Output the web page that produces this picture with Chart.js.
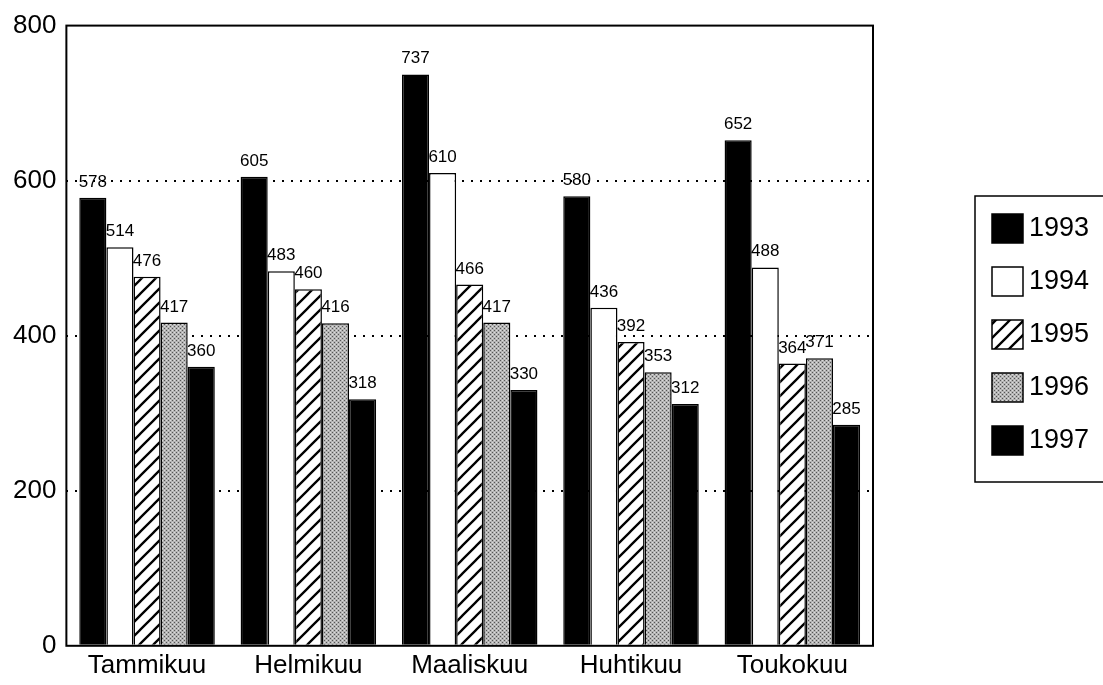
<!DOCTYPE html>
<html>
<head>
<meta charset="utf-8">
<script src="https://cdn.jsdelivr.net/npm/chart.js@4/dist/chart.umd.min.js"></script>
<style>
  html, body { margin: 0; padding: 0; background: #fff; }
  #wrap { width: 1103px; height: 685px; }
</style>
</head>
<body>
<div id="wrap"><canvas id="chart" width="1103" height="685"></canvas></div>
<script>
// Kuukaudet ja vuosien arvot
const months = ['Tammikuu', 'Helmikuu', 'Maaliskuu', 'Huhtikuu', 'Toukokuu'];
const years = ['1993', '1994', '1995', '1996', '1997'];
const v1993 = [578, 605, 737, 580, 652];
const v1994 = [514, 483, 610, 436, 488];
const v1995 = [476, 460, 466, 392, 364];
const v1996 = [417, 416, 417, 353, 371];
const v1997 = [360, 318, 330, 312, 285];
const yTicks = [0, 200, 400, 600, 800];

const FONT = '"Liberation Sans", Arial, Helvetica, sans-serif';

// Vinoviivoitus (1995)
function hatchPattern() {
    const c = document.createElement('canvas');
    c.width = 14; c.height = 14;
    const g = c.getContext('2d');
    g.fillStyle = '#fff';
    g.fillRect(0, 0, 14, 14);
    g.strokeStyle = '#000';
    g.lineWidth = 2.3;
    g.beginPath();
    g.moveTo(-2, 16); g.lineTo(16, -2);
    g.moveTo(-16, 16); g.lineTo(2, -2);
    g.moveTo(12, 16); g.lineTo(30, -2);
    g.stroke();
    return g.createPattern(c, 'repeat');
}

// Harmaa pisterasteri (1996)
function stipplePattern() {
    const c = document.createElement('canvas');
    c.width = 4; c.height = 4;
    const g = c.getContext('2d');
    g.fillStyle = '#b4b4b4';
    g.fillRect(0, 0, 4, 4);
    g.fillStyle = '#555';
    g.fillRect(0, 0, 1, 1);
    g.fillRect(2, 2, 1, 1);
    g.fillStyle = '#dcdcdc';
    g.fillRect(2, 0, 1, 1);
    g.fillRect(0, 2, 1, 1);
    return g.createPattern(c, 'repeat');
}

const fills = ['#000', '#fff', hatchPattern(), stipplePattern(), '#000'];
const series = [v1993, v1994, v1995, v1996, v1997];

// Arvot palkkien päälle
const valueLabels = {
    id: 'valueLabels',
    afterDatasetsDraw(chart) {
        const ctx = chart.ctx;
        ctx.save();
        ctx.fillStyle = '#000';
        ctx.font = '17px ' + FONT;
        ctx.textAlign = 'center';
        ctx.textBaseline = 'alphabetic';
        chart.data.datasets.forEach((ds, i) => {
            chart.getDatasetMeta(i).data.forEach((bar, j) => {
                ctx.fillText(String(ds.data[j]), bar.x, bar.y - 11);
            });
        });
        ctx.restore();
    }
};

// Kehys kuvaajan ympärille ja selite oikealle
const frameAndLegend = {
    id: 'frameAndLegend',
    afterDraw(chart) {
        const ctx = chart.ctx;
        const a = chart.chartArea;
        ctx.save();
        ctx.strokeStyle = '#000';
        ctx.lineWidth = 2;
        ctx.strokeRect(a.left, a.top, a.right - a.left, a.bottom - a.top);

        // selitelaatikko
        ctx.lineWidth = 1.5;
        ctx.strokeRect(975, 196, 140, 286);
        ctx.font = '27px ' + FONT;
        ctx.textBaseline = 'middle';
        ctx.textAlign = 'left';
        chart.data.datasets.forEach((ds, i) => {
            const y = 214 + i * 53;
            ctx.fillStyle = ds.backgroundColor;
            ctx.fillRect(992, y, 31, 29);
            ctx.strokeRect(992, y, 31, 29);
            ctx.fillStyle = '#000';
            ctx.fillText(ds.label, 1029, y + 15);
        });
        ctx.restore();
    }
};

const ctx = document.getElementById('chart').getContext('2d');
const chart = new Chart(ctx, {
    type: 'bar',
    data: {
        labels: months,
        datasets: years.map((y, i) => ({
            label: y,
            data: series[i],
            backgroundColor: fills[i],
            borderColor: '#000',
            borderWidth: 1.5,
            categoryPercentage: 0.84,
            barPercentage: 1.0
        }))
    },
    options: {
        responsive: false,
        animation: false,
        devicePixelRatio: 1,
        layout: { padding: { top: 12, right: 230, bottom: 0, left: 3 } },
        plugins: {
            legend: { display: false },
            tooltip: { enabled: false }
        },
        scales: {
            x: {
                grid: { display: false, drawTicks: false },
                border: { display: false },
                ticks: { color: '#000', font: { family: FONT, size: 26 }, padding: 4 }
            },
            y: {
                min: 0,
                max: 800,
                afterBuildTicks(axis) {
                    axis.ticks = yTicks.map(v => ({ value: v }));
                },
                border: { display: false, dash: [2, 7] },
                grid: {
                    drawTicks: false,
                    lineWidth: 2,
                    color: c => (c.tick && (c.tick.value === 0 || c.tick.value === 800)) ? 'rgba(0,0,0,0)' : '#000'
                },
                ticks: { color: '#000', font: { family: FONT, size: 26 }, padding: 10 }
            }
        }
    },
    plugins: [valueLabels, frameAndLegend]
});
</script>
</body>
</html>
